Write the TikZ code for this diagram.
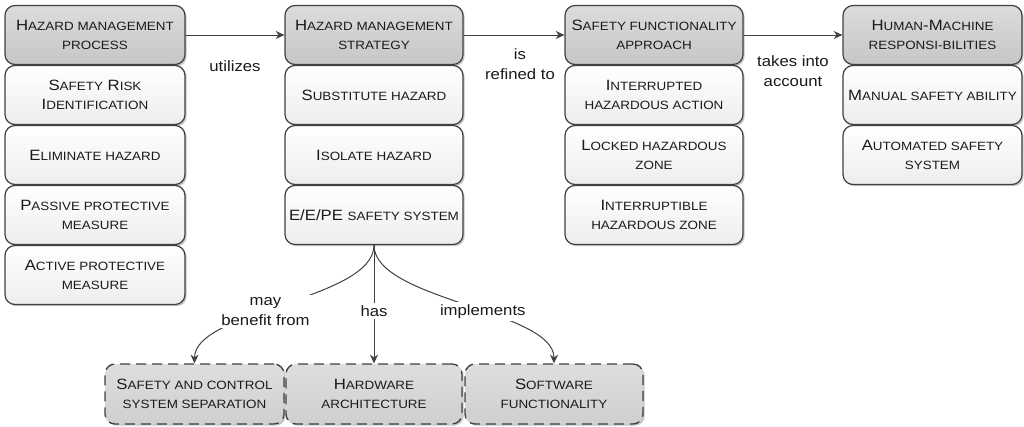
\documentclass[tikz,border=0pt]{standalone}
\usepackage{fontspec}
\setmainfont[FakeStretch=1.12]{Liberation Sans}
\usetikzlibrary{arrows.meta,shadows}
\definecolor{edgec}{HTML}{404040}
\definecolor{txtc}{HTML}{1A1A1A}
\definecolor{headtop}{HTML}{DCDCDC}
\definecolor{headbot}{HTML}{C6C6C6}
\definecolor{itemtop}{HTML}{FFFFFF}
\definecolor{itembot}{HTML}{EDEDED}
\definecolor{subtop}{HTML}{DEDEDE}
\definecolor{subbot}{HTML}{CFCFCF}
\newcommand\sm[1]{{\fontsize{9}{14.6}\selectfont\MakeUppercase{#1}}}
\begin{document}
\begin{tikzpicture}[x=0.75pt,y=-0.75pt,
 box/.style={draw=edgec, line width=0.9pt, rounded corners=7.5pt, minimum height=44.25pt,
   inner sep=1pt, align=center, text=txtc, font=\fontsize{11.2}{14.6}\selectfont,
   drop shadow={shadow xshift=1.3pt, shadow yshift=-1.3pt, opacity=0.22, fill=black}},
 head/.style={box, top color=headtop, bottom color=headbot},
 item/.style={box, top color=itemtop, bottom color=itembot},
 subbox/.style={box, line width=1pt, dash pattern=on 7.5pt off 4.5pt, top color=subtop, bottom color=subbot, minimum height=45pt},
 arr/.style={draw=edgec, line width=0.75pt, -{Stealth[length=6.5pt,width=6pt]}},
 lbl/.style={text=txtc, font=\fontsize{11.2}{14.6}\selectfont, align=center, fill=white, inner sep=2pt}
]
\useasboundingbox (0,0) rectangle (1024,426);
% column 1
\node[head, minimum width=135pt] (a0) at (95,35) {H\sm{azard management}\\\sm{process}};
\node[item, minimum width=135pt] (a1) at (95,95) {S\sm{afety} R\sm{isk}\\I\sm{dentification}};
\node[item, minimum width=135pt] (a2) at (95,155) {E\sm{liminate hazard}};
\node[item, minimum width=135pt] (a3) at (95,215) {P\sm{assive protective}\\\sm{measure}};
\node[item, minimum width=135pt] (a4) at (95,275) {A\sm{ctive protective}\\\sm{measure}};
% column 2
\node[head, minimum width=133.5pt] (b0) at (374,35) {H\sm{azard management}\\\sm{strategy}};
\node[item, minimum width=133.5pt] (b1) at (374,95) {S\sm{ubstitute hazard}};
\node[item, minimum width=133.5pt] (b2) at (374,155) {I\sm{solate hazard}};
\node[item, minimum width=133.5pt] (b3) at (374,215) {E/E/PE \sm{safety system}};
% column 3
\node[head, minimum width=133.5pt] (c0) at (654,35) {S\sm{afety functionality}\\\sm{approach}};
\node[item, minimum width=133.5pt] (c1) at (654,95) {I\sm{nterrupted}\\\sm{hazardous action}};
\node[item, minimum width=133.5pt] (c2) at (654,155) {L\sm{ocked hazardous}\\\sm{zone}};
\node[item, minimum width=133.5pt] (c3) at (654,215) {I\sm{nterruptible}\\\sm{hazardous zone}};
% column 4
\node[head, minimum width=134.25pt] (d0) at (932.5,35) {H\sm{uman}-M\sm{achine}\\\sm{responsi-bilities}};
\node[item, minimum width=134.25pt] (d1) at (932.5,95) {M\sm{anual safety ability}};
\node[item, minimum width=134.25pt] (d2) at (932.5,155) {A\sm{utomated safety}\\\sm{system}};
% bottom
\node[subbox, minimum width=134.25pt] (s1) at (194.5,394) {S\sm{afety and control}\\\sm{system separation}};
\node[subbox, minimum width=132pt] (s2) at (374,394) {H\sm{ardware}\\\sm{architecture}};
\node[subbox, minimum width=133.5pt] (s3) at (554,394) {S\sm{oftware}\\\sm{functionality}};
% top connectors
\draw[arr] (a0) -- node[lbl, yshift=-23pt]{utilizes} (b0);
\draw[arr] (b0) -- node[lbl, xshift=4.5pt, yshift=-21.75pt]{is\\refined to} (c0);
\draw[arr] (c0) -- node[lbl, yshift=-27pt]{takes into\\account} (d0);
% bottom connectors
\draw[arr] (b3.south) .. controls (374,300) and (194.5,310) .. node[lbl, pos=0.57]{may\\benefit from} (s1.north);
\draw[arr] (b3.south) -- node[lbl, pos=0.56]{has} (s2.north);
\draw[arr] (b3.south) .. controls (374,300) and (554,310) .. node[lbl, pos=0.57]{implements} (s3.north);
\end{tikzpicture}
\end{document}
